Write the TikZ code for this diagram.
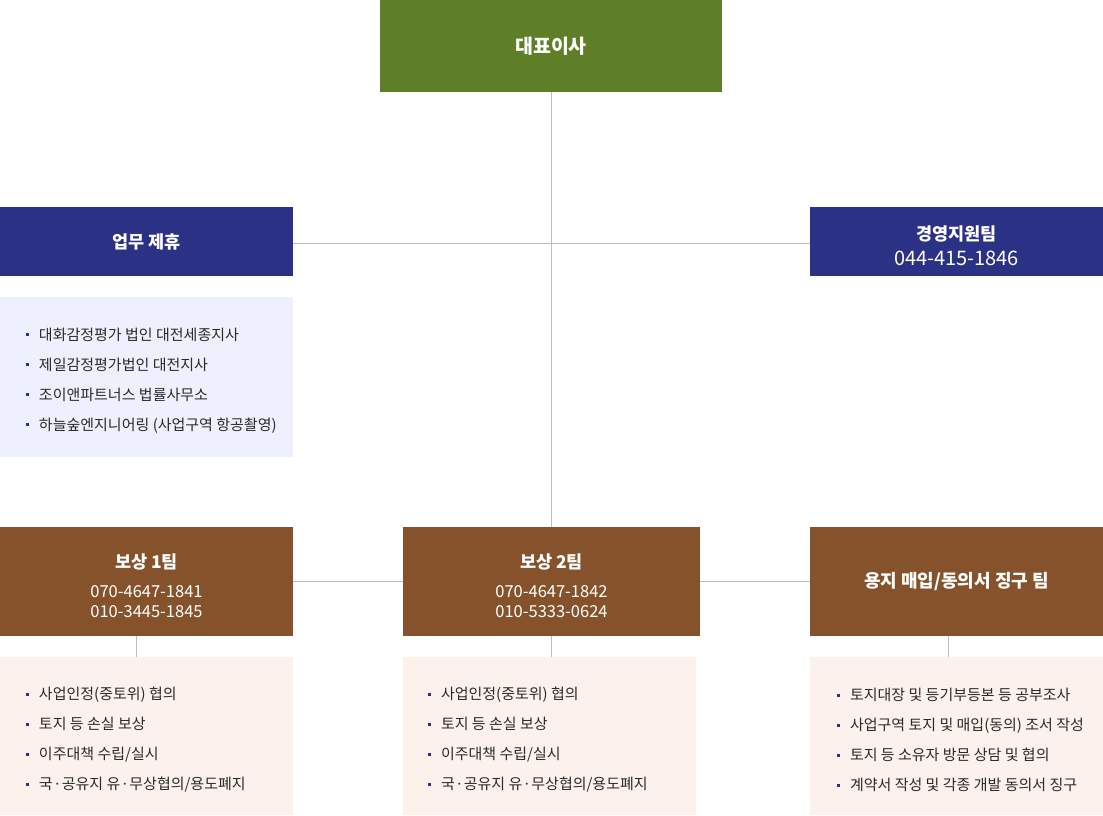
\documentclass[tikz,border=0pt]{standalone}
\usepackage{fontspec}
\setmainfont{Noto Sans CJK KR}
\newfontfamily\dotfont{Noto Sans}
\usepackage{tikz}
\usetikzlibrary{positioning}
\definecolor{ceogreen}{HTML}{5E7F28}
\definecolor{navy}{HTML}{2B3185}
\definecolor{teambrown}{HTML}{85522B}
\definecolor{paleblue}{HTML}{EEF1FD}
\definecolor{palepeach}{HTML}{FDF2EB}
\definecolor{linegray}{HTML}{BDBDBD}
\definecolor{txtgray}{HTML}{2A2A2A}
\newcommand{\itm}[1]{\textcolor{navy}{\rule[4pt]{3pt}{3pt}}\hspace{10pt}#1}
\newcommand{\mdot}{{\dotfont\,·\,}}
\newcommand{\phonefont}{\fontsize{16.5}{18}\selectfont\mdseries}
\tikzset{
	box/.style={rectangle,inner sep=0pt,text=white,align=center,font=\bfseries\fontsize{17.5}{20}\selectfont},
	boxtext/.style={inner sep=0pt,text=white,align=center,font=\bfseries\fontsize{17.5}{20}\selectfont},
	listbox/.style={rectangle,inner sep=0pt,minimum width=293pt},
	listtext/.style={anchor=west,inner sep=0pt,align=left,text=txtgray,font=\fontsize{15}{30}\selectfont},
	link/.style={draw=linegray,line width=1pt},
}
\begin{document}
\begin{tikzpicture}[x=1pt,y=-1pt]
		\useasboundingbox (0,0) rectangle (1103,815);
		% top
		\node[box,fill=ceogreen,minimum width=342pt,minimum height=92pt,font=\bfseries\fontsize{19.5}{20}\selectfont] (ceo) at (551,46) {대표이사};
		\node[box,fill=navy,minimum width=293pt,minimum height=69pt] (partner) at (146.5,241.5) {업무 제휴};
		\node[box,fill=navy,minimum width=293pt,minimum height=69pt] (mgmt) at (956.5,241.5) {};
		\node[boxtext] (mgmttext) at ([yshift=-4pt]mgmt.center) {경영지원팀\\[4.5pt]\fontsize{20}{22}\selectfont\mdseries 044-415-1846};
		\node[listbox,fill=paleblue,minimum height=160pt] (partnerlist) at (146.5,377) {};
		\node[listtext] (partnertext) at ([xshift=26pt,yshift=-3.5pt]partnerlist.west) {\itm{대화감정평가 법인 대전세종지사}\\\itm{제일감정평가법인 대전지사}\\\itm{조이앤파트너스 법률사무소}\\\itm{하늘숲엔지니어링 (사업구역 항공촬영)}};
		% teams
		\node[box,fill=teambrown,minimum width=293pt,minimum height=109pt] (team1) at (146.5,581.5) {};
		\node[box,fill=teambrown,minimum width=297pt,minimum height=109pt] (team2) at (551.5,581.5) {};
		\node[box,fill=teambrown,minimum width=293pt,minimum height=109pt,font=\bfseries\fontsize{18}{20}\selectfont] (land) at (956.5,581.5) {용지 매입/동의서 징구 팀};
		\node[boxtext] (team1text) at ([yshift=-4pt]team1.center) {보상 1팀\\[8.5pt]\phonefont 070-4647-1841\\\phonefont 010-3445-1845};
		\node[boxtext] (team2text) at ([yshift=-4pt]team2.center) {보상 2팀\\[8.5pt]\phonefont 070-4647-1842\\\phonefont 010-5333-0624};
		\node[listbox,fill=palepeach,minimum height=158pt] (team1list) at (146.5,736) {};
		\node[listbox,fill=palepeach,minimum height=158pt] (team2list) at (549.5,736) {};
		\node[listbox,fill=palepeach,minimum height=158pt] (landlist) at (956.5,736) {};
		\node[listtext] (team1items) at ([xshift=26pt,yshift=-4pt]team1list.west) {\itm{사업인정(중토위) 협의}\\\itm{토지 등 손실 보상}\\\itm{이주대책 수립/실시}\\\itm{국\mdot 공유지 유\mdot 무상협의/용도폐지}};
		\node[listtext] (team2items) at ([xshift=25pt,yshift=-4pt]team2list.west) {\itm{사업인정(중토위) 협의}\\\itm{토지 등 손실 보상}\\\itm{이주대책 수립/실시}\\\itm{국\mdot 공유지 유\mdot 무상협의/용도폐지}};
		\node[listtext] (landitems) at ([xshift=27pt,yshift=-4pt]landlist.west) {\itm{토지대장 및 등기부등본 등 공부조사}\\\itm{사업구역 토지 및 매입(동의) 조서 작성}\\\itm{토지 등 소유자 방문 상담 및 협의}\\\itm{계약서 작성 및 각종 개발 동의서 징구}};
		% lines
		\draw[link] ([xshift=0.5pt]ceo.south) -- ([xshift=0.5pt]ceo.south |- team2.north);
		\draw[link] ([yshift=-2pt]partner.east) -- ([yshift=-2pt]partner.east -| mgmt.west);
		\draw[link] (team1.east) -- (team2.west);
		\draw[link] (team2.east) -- (land.west);
		\draw[link] ([xshift=-10pt]team1.south) -- ([xshift=-10pt]team1list.north);
		\draw[link] (team2.south) -- ([xshift=2pt]team2list.north);
		\draw[link] ([xshift=-8.5pt]land.south) -- ([xshift=-8.5pt]landlist.north);
	\end{tikzpicture}
\end{document}
